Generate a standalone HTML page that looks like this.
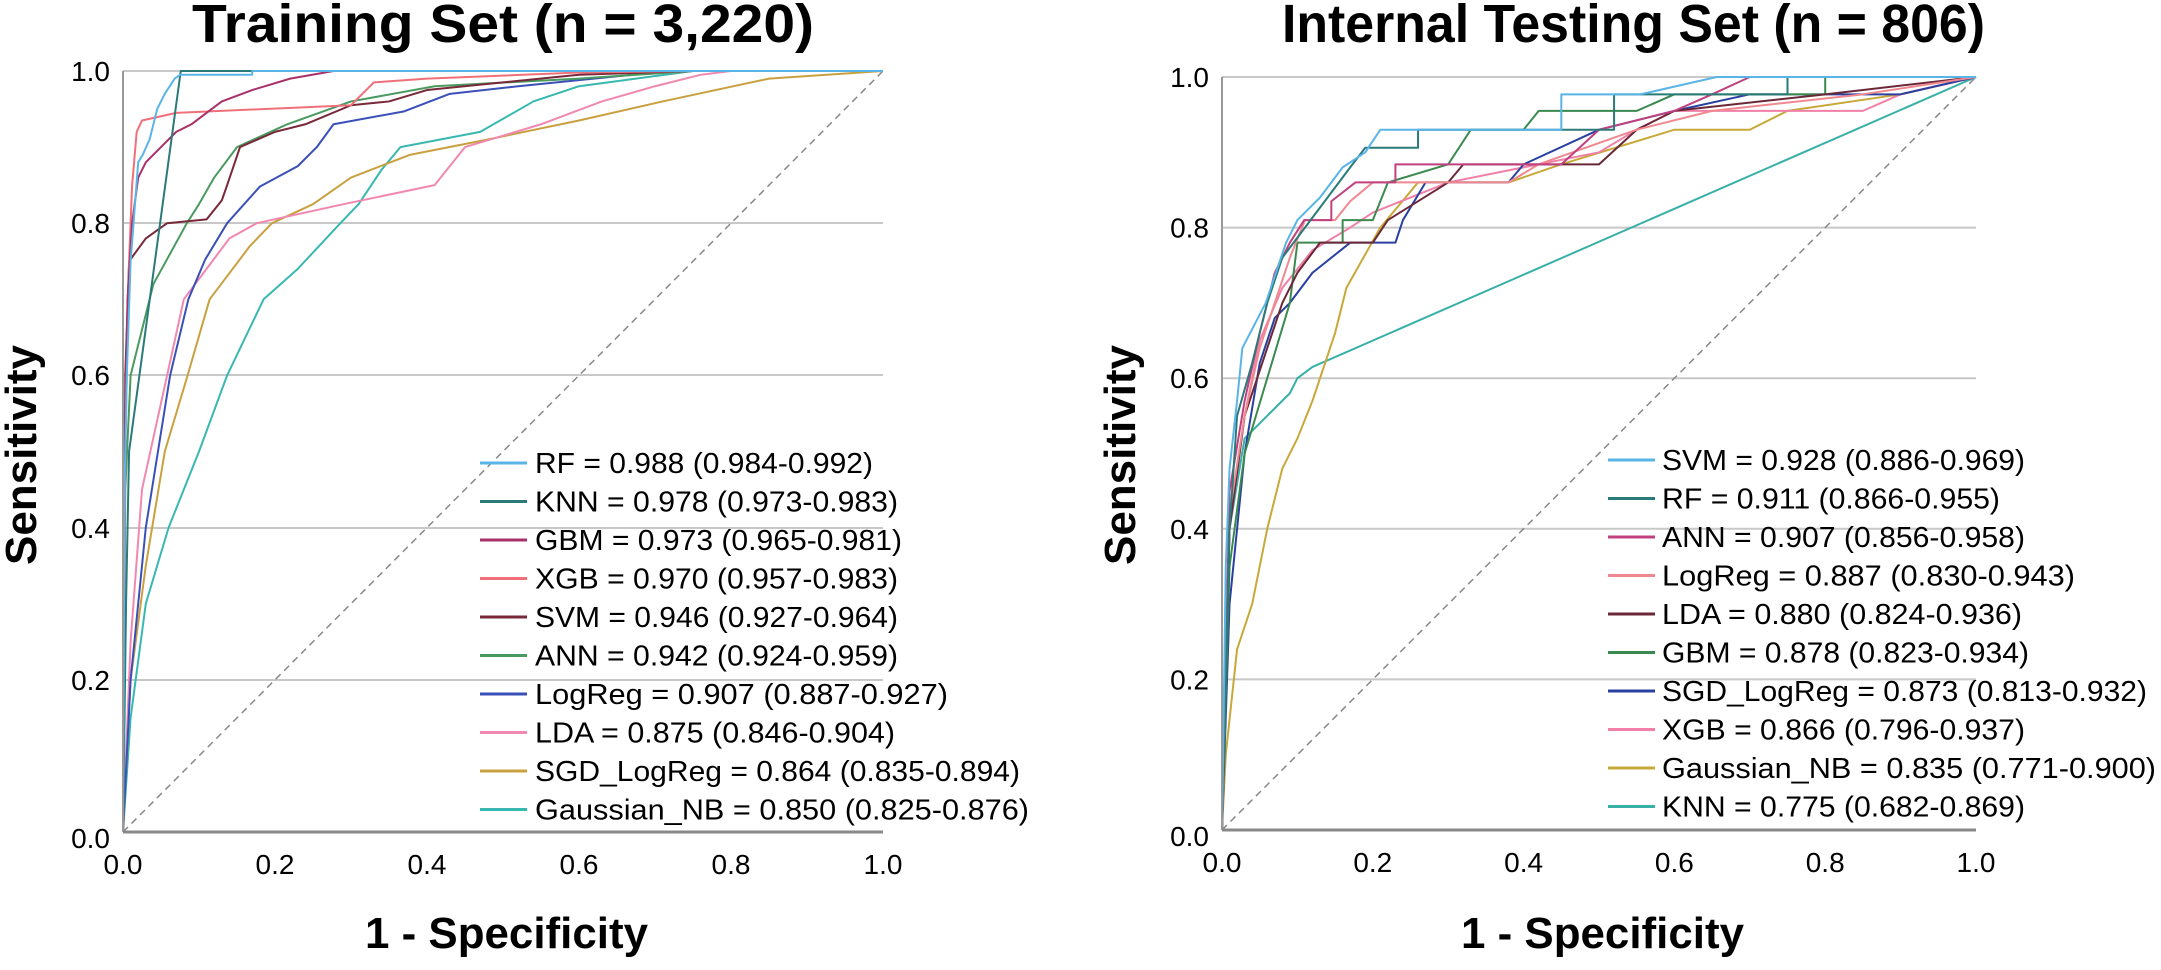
<!DOCTYPE html>
<html><head><meta charset="utf-8"><style>
html,body{margin:0;padding:0;background:#fff;}
svg{display:block;}
text{font-family:"Liberation Sans",Arial,sans-serif;fill:#000;}
.tk{font-size:28px;}
.lg{font-size:29px;}
.c{fill:none;stroke-width:2;vector-effect:non-scaling-stroke;stroke-linejoin:round;}
</style></head><body>
<svg width="2161" height="970" viewBox="0 0 2161 970" xmlns="http://www.w3.org/2000/svg">
<!-- LEFT PLOT -->
<g stroke="#c8c8c8" stroke-width="2">
<line x1="123" y1="71" x2="883" y2="71"/><line x1="123" y1="223" x2="883" y2="223"/>
<line x1="123" y1="375" x2="883" y2="375"/><line x1="123" y1="528" x2="883" y2="528"/>
<line x1="123" y1="680" x2="883" y2="680"/>
</g>
<line x1="123" y1="832" x2="883" y2="71" stroke="#888" stroke-width="1.5" stroke-dasharray="7,5"/>
<g transform="translate(123,832) scale(760,-761)">
<path class="c" stroke="#38b8b0" d="M0,0L0.01,0.15L0.03,0.3L0.06,0.4L0.1,0.5L0.137,0.6L0.185,0.7L0.23,0.74L0.286,0.8L0.31,0.825L0.34,0.87L0.365,0.9L0.47,0.92L0.54,0.96L0.6,0.98L0.75,1L1,1"/>
<path class="c" stroke="#c8a040" d="M0,0L0.01,0.2L0.03,0.35L0.055,0.5L0.085,0.6L0.114,0.7L0.167,0.77L0.196,0.8L0.25,0.825L0.3,0.86L0.378,0.89L0.48,0.91L0.6,0.935L0.71,0.96L0.85,0.99L1,1"/>
<path class="c" stroke="#f088b0" d="M0,0L0.01,0.25L0.025,0.45L0.058,0.6L0.08,0.7L0.11,0.74L0.14,0.78L0.176,0.8L0.29,0.825L0.41,0.85L0.45,0.9L0.55,0.93L0.63,0.96L0.7,0.98L0.76,0.995L0.8,1L1,1"/>
<path class="c" stroke="#3a50b8" d="M0,0L0.01,0.2L0.03,0.4L0.062,0.6L0.086,0.7L0.108,0.752L0.137,0.8L0.18,0.848L0.23,0.875L0.255,0.9L0.277,0.93L0.37,0.947L0.43,0.97L0.52,0.98L0.72,1L1,1"/>
<path class="c" stroke="#4a9a60" d="M0,0L0.003,0.45L0.01,0.6L0.04,0.72L0.084,0.8L0.1,0.825L0.12,0.86L0.15,0.9L0.216,0.93L0.3,0.96L0.41,0.98L0.6,0.99L0.75,1L1,1"/>
<path class="c" stroke="#782838" d="M0,0L0.003,0.6L0.008,0.75L0.03,0.78L0.058,0.8L0.11,0.805L0.13,0.83L0.137,0.85L0.154,0.9L0.2,0.92L0.24,0.93L0.3,0.955L0.35,0.96L0.4,0.975L0.5,0.985L0.6,0.995L0.75,1L1,1"/>
<path class="c" stroke="#f0707a" d="M0,0L0.003,0.5L0.008,0.75L0.012,0.85L0.018,0.92L0.025,0.935L0.07,0.945L0.3,0.955L0.33,0.985L0.4,0.99L0.6,0.998L0.75,1L1,1"/>
<path class="c" stroke="#a8306a" d="M0,0L0.002,0.5L0.006,0.7L0.012,0.8L0.02,0.86L0.03,0.88L0.05,0.9L0.07,0.92L0.09,0.93L0.11,0.945L0.13,0.96L0.17,0.975L0.22,0.99L0.277,1L1,1"/>
<path class="c" stroke="#2a7a78" d="M0,0L0.004,0.3L0.008,0.5L0.076,1L1,1"/>
<path class="c" stroke="#5ab4e6" d="M0,0L0.002,0.45L0.005,0.6L0.01,0.75L0.02,0.88L0.026,0.89L0.035,0.91L0.045,0.95L0.055,0.97L0.068,0.99L0.075,0.995L0.17,0.995L0.17,1L1,1"/>
</g>
<line x1="123" y1="71" x2="123" y2="832" stroke="#999" stroke-width="2"/>
<line x1="123" y1="832" x2="883" y2="832" stroke="#888" stroke-width="3"/>
<g class="tk" text-anchor="end">
<text x="110" y="81">1.0</text><text x="110" y="233">0.8</text><text x="110" y="385">0.6</text>
<text x="110" y="538">0.4</text><text x="110" y="690">0.2</text><text x="110" y="848">0.0</text>
</g>
<g class="tk" text-anchor="middle">
<text x="123" y="874">0.0</text><text x="275" y="874">0.2</text><text x="427" y="874">0.4</text>
<text x="579" y="874">0.6</text><text x="731" y="874">0.8</text><text x="883" y="874">1.0</text>
</g>
<text x="192" y="42" font-size="54" font-weight="bold" textLength="622" lengthAdjust="spacingAndGlyphs">Training Set (n = 3,220)</text>
<text x="365" y="948" font-size="44" font-weight="bold" textLength="283" lengthAdjust="spacingAndGlyphs">1 - Specificity</text>
<text transform="translate(36,455) rotate(-90)" text-anchor="middle" font-size="44" font-weight="bold" textLength="220" lengthAdjust="spacingAndGlyphs">Sensitivity</text>
<g stroke-width="3">
<line x1="480" y1="463" x2="527" y2="463" stroke="#5ab4e6"/>
<line x1="480" y1="501.5" x2="527" y2="501.5" stroke="#2a7a78"/>
<line x1="480" y1="540" x2="527" y2="540" stroke="#a8306a"/>
<line x1="480" y1="578.5" x2="527" y2="578.5" stroke="#f0707a"/>
<line x1="480" y1="617" x2="527" y2="617" stroke="#782838"/>
<line x1="480" y1="655.5" x2="527" y2="655.5" stroke="#4a9a60"/>
<line x1="480" y1="694" x2="527" y2="694" stroke="#3a50b8"/>
<line x1="480" y1="732.5" x2="527" y2="732.5" stroke="#f088b0"/>
<line x1="480" y1="771" x2="527" y2="771" stroke="#c8a040"/>
<line x1="480" y1="809.5" x2="527" y2="809.5" stroke="#38b8b0"/>
</g>
<g class="lg">
<text x="535" y="473" textLength="338" lengthAdjust="spacingAndGlyphs">RF = 0.988 (0.984-0.992)</text>
<text x="535" y="511.5" textLength="363" lengthAdjust="spacingAndGlyphs">KNN = 0.978 (0.973-0.983)</text>
<text x="535" y="550" textLength="367" lengthAdjust="spacingAndGlyphs">GBM = 0.973 (0.965-0.981)</text>
<text x="535" y="588.5" textLength="363" lengthAdjust="spacingAndGlyphs">XGB = 0.970 (0.957-0.983)</text>
<text x="535" y="627" textLength="363" lengthAdjust="spacingAndGlyphs">SVM = 0.946 (0.927-0.964)</text>
<text x="535" y="665.5" textLength="363" lengthAdjust="spacingAndGlyphs">ANN = 0.942 (0.924-0.959)</text>
<text x="535" y="704" textLength="413" lengthAdjust="spacingAndGlyphs">LogReg = 0.907 (0.887-0.927)</text>
<text x="535" y="742.5" textLength="360" lengthAdjust="spacingAndGlyphs">LDA = 0.875 (0.846-0.904)</text>
<text x="535" y="781" textLength="485" lengthAdjust="spacingAndGlyphs">SGD_LogReg = 0.864 (0.835-0.894)</text>
<text x="535" y="819.5" textLength="494" lengthAdjust="spacingAndGlyphs">Gaussian_NB = 0.850 (0.825-0.876)</text>
</g>

<!-- RIGHT PLOT -->
<g stroke="#c8c8c8" stroke-width="2">
<line x1="1222" y1="77" x2="1976" y2="77"/><line x1="1222" y1="227.6" x2="1976" y2="227.6"/>
<line x1="1222" y1="378.2" x2="1976" y2="378.2"/><line x1="1222" y1="528.8" x2="1976" y2="528.8"/>
<line x1="1222" y1="679.4" x2="1976" y2="679.4"/>
</g>
<line x1="1222" y1="830" x2="1976" y2="77" stroke="#888" stroke-width="1.5" stroke-dasharray="7,5"/>
<g transform="translate(1222,830) scale(754,-753)">
<path class="c" stroke="#38b0a8" d="M0,0L0.01,0.4L0.03,0.52L0.06,0.55L0.09,0.58L0.1,0.6L0.12,0.615L1,1"/>
<path class="c" stroke="#c8a838" d="M0,0L0.005,0.1L0.02,0.24L0.04,0.3L0.06,0.4L0.08,0.48L0.1,0.52L0.12,0.57L0.15,0.66L0.165,0.72L0.21,0.8L0.26,0.86L0.38,0.86L0.45,0.884L0.6,0.93L0.7,0.93L0.75,0.955L0.9,0.977L1,1"/>
<path class="c" stroke="#f080a8" d="M0,0L0.01,0.4L0.03,0.55L0.05,0.65L0.08,0.72L0.12,0.77L0.17,0.8L0.2,0.82L0.3,0.86L0.5,0.9L0.55,0.93L0.6,0.955L0.85,0.955L0.9,0.977L1,1"/>
<path class="c" stroke="#2a40a0" d="M0,0L0.01,0.3L0.03,0.5L0.05,0.62L0.07,0.68L0.09,0.7L0.12,0.74L0.17,0.78L0.23,0.78L0.24,0.81L0.27,0.86L0.38,0.86L0.4,0.884L0.5,0.93L0.6,0.955L0.7,0.977L0.9,0.977L1,1"/>
<path class="c" stroke="#3a8a50" d="M0,0L0.01,0.35L0.03,0.5L0.06,0.6L0.09,0.7L0.1,0.78L0.16,0.78L0.16,0.81L0.2,0.81L0.22,0.86L0.3,0.884L0.33,0.93L0.4,0.93L0.42,0.955L0.55,0.955L0.6,0.977L0.8,0.977L0.8,1L1,1"/>
<path class="c" stroke="#6a2838" d="M0,0L0.01,0.4L0.03,0.55L0.06,0.64L0.08,0.7L0.1,0.74L0.13,0.78L0.2,0.78L0.22,0.81L0.3,0.86L0.32,0.884L0.5,0.884L0.55,0.93L0.6,0.955L0.8,0.977L1,1"/>
<path class="c" stroke="#f08890" d="M0,0L0.01,0.42L0.03,0.55L0.05,0.64L0.07,0.7L0.09,0.76L0.11,0.81L0.15,0.81L0.17,0.835L0.2,0.86L0.38,0.86L0.42,0.884L0.55,0.93L0.65,0.955L0.85,0.977L1,1"/>
<path class="c" stroke="#c04080" d="M0,0L0.01,0.45L0.03,0.57L0.05,0.66L0.07,0.74L0.09,0.78L0.109,0.81L0.145,0.81L0.145,0.835L0.177,0.86L0.23,0.86L0.23,0.884L0.45,0.884L0.5,0.93L0.6,0.955L0.65,0.977L0.7,1L1,1"/>
<path class="c" stroke="#2a7a78" d="M0,0L0.01,0.4L0.02,0.55L0.04,0.62L0.06,0.7L0.08,0.76L0.11,0.8L0.14,0.84L0.17,0.88L0.19,0.906L0.26,0.906L0.26,0.93L0.52,0.93L0.52,0.977L0.75,0.977L0.75,1L1,1"/>
<path class="c" stroke="#5ab4e6" d="M0,0L0.005,0.35L0.01,0.48L0.02,0.57L0.027,0.64L0.058,0.7L0.085,0.78L0.1,0.81L0.13,0.84L0.16,0.88L0.19,0.9L0.21,0.93L0.45,0.93L0.45,0.977L0.555,0.977L0.656,1L1,1"/>
</g>
<line x1="1222" y1="77" x2="1222" y2="830" stroke="#999" stroke-width="2"/>
<line x1="1222" y1="830" x2="1976" y2="830" stroke="#888" stroke-width="3"/>
<g class="tk" text-anchor="end">
<text x="1209" y="87">1.0</text><text x="1209" y="237.6">0.8</text><text x="1209" y="388.2">0.6</text>
<text x="1209" y="538.8">0.4</text><text x="1209" y="689.4">0.2</text><text x="1209" y="846">0.0</text>
</g>
<g class="tk" text-anchor="middle">
<text x="1222" y="872">0.0</text><text x="1372.8" y="872">0.2</text><text x="1523.6" y="872">0.4</text>
<text x="1674.4" y="872">0.6</text><text x="1825.2" y="872">0.8</text><text x="1976" y="872">1.0</text>
</g>
<text x="1282" y="42" font-size="54" font-weight="bold" textLength="703" lengthAdjust="spacingAndGlyphs">Internal Testing Set (n = 806)</text>
<text x="1461" y="948" font-size="44" font-weight="bold" textLength="283" lengthAdjust="spacingAndGlyphs">1 - Specificity</text>
<text transform="translate(1135,455) rotate(-90)" text-anchor="middle" font-size="44" font-weight="bold" textLength="220" lengthAdjust="spacingAndGlyphs">Sensitivity</text>
<g stroke-width="3">
<line x1="1608" y1="460" x2="1655" y2="460" stroke="#5ab4e6"/>
<line x1="1608" y1="498.5" x2="1655" y2="498.5" stroke="#2a7a78"/>
<line x1="1608" y1="537" x2="1655" y2="537" stroke="#c04080"/>
<line x1="1608" y1="575.5" x2="1655" y2="575.5" stroke="#f08890"/>
<line x1="1608" y1="614" x2="1655" y2="614" stroke="#6a2838"/>
<line x1="1608" y1="652.5" x2="1655" y2="652.5" stroke="#3a8a50"/>
<line x1="1608" y1="691" x2="1655" y2="691" stroke="#2a40a0"/>
<line x1="1608" y1="729.5" x2="1655" y2="729.5" stroke="#f080a8"/>
<line x1="1608" y1="768" x2="1655" y2="768" stroke="#c8a838"/>
<line x1="1608" y1="806.5" x2="1655" y2="806.5" stroke="#38b0a8"/>
</g>
<g class="lg">
<text x="1662" y="470" textLength="363" lengthAdjust="spacingAndGlyphs">SVM = 0.928 (0.886-0.969)</text>
<text x="1662" y="508.5" textLength="338" lengthAdjust="spacingAndGlyphs">RF = 0.911 (0.866-0.955)</text>
<text x="1662" y="547" textLength="363" lengthAdjust="spacingAndGlyphs">ANN = 0.907 (0.856-0.958)</text>
<text x="1662" y="585.5" textLength="413" lengthAdjust="spacingAndGlyphs">LogReg = 0.887 (0.830-0.943)</text>
<text x="1662" y="624" textLength="360" lengthAdjust="spacingAndGlyphs">LDA = 0.880 (0.824-0.936)</text>
<text x="1662" y="662.5" textLength="367" lengthAdjust="spacingAndGlyphs">GBM = 0.878 (0.823-0.934)</text>
<text x="1662" y="701" textLength="485" lengthAdjust="spacingAndGlyphs">SGD_LogReg = 0.873 (0.813-0.932)</text>
<text x="1662" y="739.5" textLength="363" lengthAdjust="spacingAndGlyphs">XGB = 0.866 (0.796-0.937)</text>
<text x="1662" y="778" textLength="494" lengthAdjust="spacingAndGlyphs">Gaussian_NB = 0.835 (0.771-0.900)</text>
<text x="1662" y="816.5" textLength="363" lengthAdjust="spacingAndGlyphs">KNN = 0.775 (0.682-0.869)</text>
</g>
</svg>
</body></html>
